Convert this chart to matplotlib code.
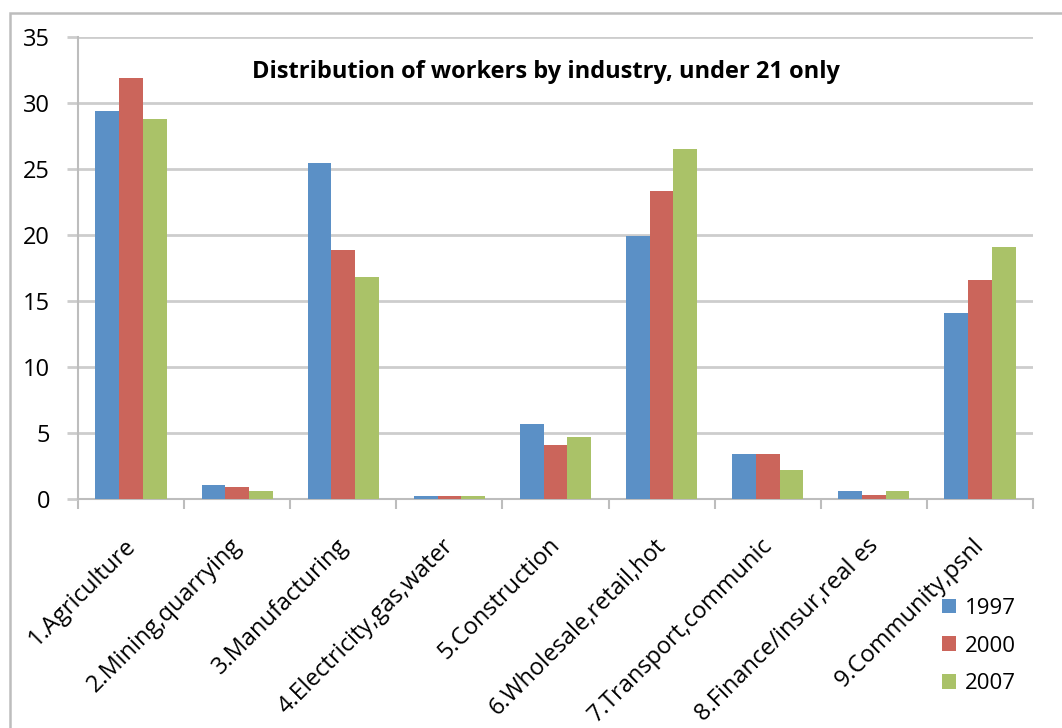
import numpy as np
import matplotlib
matplotlib.use('Agg')
import matplotlib.pyplot as plt
from matplotlib.patches import Rectangle
from matplotlib.transforms import ScaledTranslation


categorias = ['1.Agriculture', '2.Mining,quarrying', '3.Manufacturing',
              '4.Electricity,gas,water', '5.Construction', '6.Wholesale,retail,hot',
              '7.Transport,communic', '8.Finance/insur,real es', '9.Community,psnl']
anios = ['1997', '2000', '2007']
v1997 = [29.4, 1.05, 25.45, 0.2, 5.7, 19.9, 3.4, 0.58, 14.1]
v2000 = [31.9, 0.9, 18.9, 0.2, 4.1, 23.3, 3.4, 0.33, 16.6]
v2007 = [28.8, 0.58, 16.8, 0.2, 4.7, 26.5, 2.2, 0.58, 19.1]
colores = ['#5B90C6', '#CB655B', '#AAC268']

plt.rcParams['font.family'] = ['Open Sans', 'DejaVu Sans']


def report():
    fig = plt.figure(figsize=(10.62, 7.28), dpi=100)
    # marco del grafico (solo se ven borde izquierdo y superior)
    fig.patches.append(Rectangle((10 / 1062, -0.05), 1.2, 1 - 13 / 728 + 0.05,
                                 transform=fig.transFigure, fill=False,
                                 edgecolor='#BDBDBD', linewidth=1.8))
    ax = fig.add_axes([78 / 1062, 1 - 499 / 728, 955 / 1062, 462 / 728])

    x = np.arange(len(categorias))
    ancho = 0.224
    series = [v1997, v2000, v2007]
    for i, vals in enumerate(series):
        ax.bar(x + (i - 1) * ancho, vals, ancho, color=colores[i], label=anios[i], zorder=3)

    ax.set_xlim(-0.5, len(categorias) - 0.5)
    ax.set_ylim(0, 35)
    ax.set_yticks(range(0, 36, 5))
    ax.grid(axis='y', color='#CDCDCD', linewidth=2, zorder=0)
    ax.set_axisbelow(True)

    ax.set_xticks(np.arange(-0.5, len(categorias), 1), minor=False)
    ax.set_xticklabels([])
    ax.set_xticks(x, minor=True)
    ax.set_xticklabels(categorias, minor=True, rotation=45, ha='right', va='center',
                       rotation_mode='anchor', fontsize=17)
    ax.tick_params(axis='x', which='minor', length=0, pad=31)
    ax.tick_params(axis='x', which='major', length=7, color='#BDBDBD', width=1.5)
    ax.tick_params(axis='y', length=8, color='#CDCDCD', width=2, labelsize=17, pad=12)
    for lab in ax.get_xticklabels(minor=True):
        lab.set_transform(lab.get_transform() + ScaledTranslation(0.01, 0, fig.dpi_scale_trans))

    for s in ['top', 'right']:
        ax.spines[s].set_visible(False)
    for s in ['left', 'bottom']:
        ax.spines[s].set_color('#BDBDBD')
        ax.spines[s].set_linewidth(1.5)

    ax.text(0.49, 0.924, 'Distribution of workers by industry, under 21 only',
            transform=ax.transAxes, ha='center', va='center',
            fontsize=17, fontweight='bold')

    fig.legend(loc='center left', bbox_to_anchor=(933 / 1062, 1 - 646 / 728),
               frameon=False, fontsize=16, handlelength=0.65, handleheight=0.65,
               handletextpad=0.4, labelspacing=0.75, borderaxespad=0)

    fig.savefig('out.png', dpi=100)


if __name__ == '__main__':
    report()
